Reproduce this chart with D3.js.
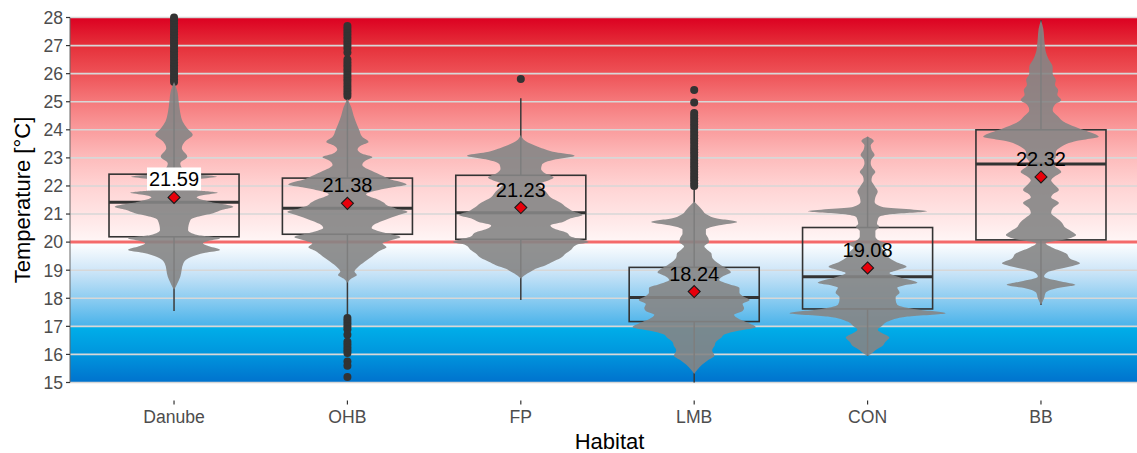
<!DOCTYPE html>
<html>
<head>
<meta charset="utf-8">
<script src="https://cdn.jsdelivr.net/npm/d3@7"></script>
<style>
  html, body { margin: 0; padding: 0; background: #ffffff; }
  svg { display: block; }
  text { font-family: "Liberation Sans", Arial, sans-serif; }
</style>
</head>
<body>
<svg id="chart" width="1137" height="453"></svg>
<script>
// ---- data -------------------------------------------------------------
const habitats = ["Danube", "OHB", "FP", "LMB", "CON", "BB"];
const yTicks = [15, 16, 17, 18, 19, 20, 21, 22, 23, 24, 25, 26, 27, 28];
const threshold = 20;

// box statistics: [lower whisker, Q1, median, Q3, upper whisker]
const boxStats = [
  [17.55, 20.19, 21.42, 22.42, 25.65],
  [17.40, 20.28, 21.21, 22.28, 25.10],
  [17.94, 20.10, 21.05, 22.38, 25.12],
  [15.00, 17.17, 18.03, 19.10, 21.90],
  [15.95, 17.62, 18.77, 20.52, 23.75],
  [17.76, 20.08, 22.78, 24.00, 27.90]
];

const means = [21.59, 21.38, 21.23, 18.24, 19.08, 22.32];

// outlying observations per habitat
const outliers = [
  [25.7, 25.8, 25.9, 26.0, 26.1, 26.2, 26.3, 26.4, 26.5, 26.6, 26.7, 26.8, 26.9, 27.0,
   27.1, 27.2, 27.3, 27.4, 27.5, 27.6, 27.7, 27.8, 27.9, 28.0],
  [25.2, 25.3, 25.4, 25.5, 25.6, 25.7, 25.8, 25.9, 26.0, 26.1, 26.2, 26.3, 26.4, 26.5,
   26.75, 26.9, 27.0, 27.1, 27.2, 27.3, 27.4, 27.5, 27.6, 27.7,
   17.3, 17.2, 17.1, 17.0, 16.9, 16.7, 16.45, 16.35, 16.25, 16.15, 16.05, 15.75, 15.6, 15.2],
  [25.81],
  [25.42, 24.97, 24.6, 24.5, 24.4, 24.3, 24.2, 24.1, 24.0, 23.9, 23.8, 23.7, 23.6, 23.5,
   23.4, 23.3, 23.2, 23.1, 23.0, 22.9, 22.8, 22.7, 22.6, 22.5, 22.4, 22.3, 22.2, 22.1, 22.0],
  [],
  []
];

// kernel density outlines: [temperature, relative density]
const densities = [
  [[25.7,0],[25.4,.04],[25.0,.06],[24.6,.08],[24.3,.11],[24.05,.17],[23.82,.24],[23.58,.14],
   [23.34,.10],[23.04,.17],[22.81,.08],[22.57,.12],[22.42,.3],[22.33,.55],[22.25,.32],[22.15,.21],
   [21.97,.17],[21.85,.3],[21.76,.56],[21.68,.38],[21.6,.29],[21.44,.46],[21.26,.76],[21.15,.62],
   [21.03,.5],[20.9,.3],[20.79,.21],[20.43,.18],[20.25,.3],[20.14,.59],[20.05,.45],[19.96,.37],
   [19.85,.45],[19.72,.59],[19.62,.4],[19.54,.29],[19.25,.12],[18.77,.08],[18.3,0]],
  [[25.1,0],[24.8,.05],[24.5,.08],[24.2,.12],[24.0,.15],[23.75,.19],[23.57,.27],[23.45,.18],
   [23.3,.13],[23.15,.19],[23.03,.32],[22.9,.23],[22.75,.19],[22.6,.26],[22.45,.38],[22.25,.54],
   [22.05,.76],[21.95,.58],[21.8,.32],[21.7,.24],[21.55,.36],[21.4,.47],[21.3,.51],[21.2,.62],
   [21.08,.77],[20.95,.64],[20.8,.49],[20.65,.36],[20.5,.31],[20.35,.45],[20.18,.68],[20.05,.54],
   [19.96,.45],[19.82,.50],[19.7,.42],[19.5,.32],[19.3,.22],[19.1,.13],[18.95,.09],[18.83,.12],
   [18.7,.05],[18.55,0]],
  [[23.82,0],[23.6,.06],[23.4,.22],[23.2,.45],[23.08,.69],[22.95,.45],[22.85,.32],[22.75,.27],
   [22.6,.26],[22.45,.31],[22.3,.42],[22.2,.36],[22.05,.23],[21.95,.26],[21.8,.32],[21.6,.38],
   [21.4,.51],[21.25,.58],[21.1,.67],[20.97,.79],[20.85,.64],[20.72,.54],[20.6,.38],[20.5,.41],
   [20.33,.59],[20.2,.64],[20.08,.79],[20.0,.87],[19.9,.71],[19.72,.64],[19.6,.58],[19.43,.51],
   [19.3,.41],[19.18,.32],[19.05,.19],[18.95,.13],[18.8,.04],[18.7,0]],
  [[21.45,0],[21.3,.05],[21.15,.10],[21.0,.15],[20.85,.28],[20.72,.55],[20.6,.32],[20.45,.15],
   [20.3,.15],[20.15,.18],[20.0,.19],[19.85,.13],[19.72,.17],[19.6,.22],[19.45,.23],[19.3,.28],
   [19.15,.36],[19.0,.45],[18.93,.47],[18.8,.38],[18.65,.32],[18.5,.45],[18.37,.58],[18.2,.58],
   [18.05,.64],[17.94,.71],[17.8,.62],[17.65,.64],[17.55,.62],[17.41,.51],[17.25,.58],[17.1,.71],
   [16.97,.79],[16.85,.58],[16.7,.38],[16.6,.35],[16.45,.28],[16.3,.26],[16.15,.23],[15.95,.26],
   [15.8,.18],[15.63,.10],[15.45,.04],[15.3,0]],
  [[23.75,0],[23.6,.08],[23.45,.04],[23.3,.05],[23.1,.09],[22.95,.05],[22.82,.04],[22.65,.06],
   [22.5,.10],[22.35,.06],[22.2,.05],[22.0,.09],[21.8,.13],[21.6,.10],[21.43,.09],[21.25,.19],
   [21.1,.76],[21.0,.32],[20.9,.15],[20.79,.13],[20.65,.12],[20.55,.15],[20.4,.10],[20.2,.10],
   [20.05,.15],[19.95,.26],[19.8,.18],[19.65,.23],[19.48,.26],[19.3,.36],[19.12,.50],[19.0,.38],
   [18.9,.28],[18.75,.41],[18.55,.64],[18.45,.45],[18.38,.38],[18.2,.41],[18.05,.36],[17.95,.36],
   [17.77,.38],[17.6,.64],[17.47,1.0],[17.35,.51],[17.17,.26],[17.0,.18],[16.88,.13],[16.75,.19],
   [16.6,.28],[16.45,.23],[16.3,.19],[16.15,.10],[16.05,.06],[15.95,0]],
  [[27.9,0],[27.6,.03],[27.3,.04],[27.0,.05],[26.8,.06],[26.5,.10],[26.24,.15],[26.0,.15],
   [25.78,.19],[25.6,.18],[25.42,.22],[25.25,.21],[25.06,.26],[24.9,.18],[24.7,.15],[24.5,.21],
   [24.24,.32],[24.05,.49],[23.9,.64],[23.75,.74],[23.6,.45],[23.4,.26],[23.2,.19],[23.03,.19],
   [22.85,.15],[22.7,.18],[22.5,.26],[22.35,.18],[22.2,.13],[22.05,.17],[21.86,.23],[21.7,.15],
   [21.6,.13],[21.4,.23],[21.2,.15],[21.04,.13],[20.9,.18],[20.72,.26],[20.5,.32],[20.35,.41],
   [20.25,.45],[20.1,.32],[19.96,.06],[19.8,.15],[19.6,.32],[19.4,.38],[19.25,.50],[19.1,.32],
   [18.95,.10],[18.77,.04],[18.6,.26],[18.48,.44],[18.35,.19],[18.2,.06],[18.0,.04],[17.76,0]]
];

// background colour ramp: [temperature, colour]
const bgStops = [
  [28.0, "#dc0021"], [27.0, "#e5303a"], [26.0, "#ee5257"], [25.0, "#f5797b"],
  [24.0, "#fa9c9d"], [23.0, "#fdbcbc"], [22.0, "#ffd3d3"], [21.0, "#ffe4e4"],
  [20.02, "#fff6f6"], [20.0, "#ffffff"], [19.0, "#cfe6f8"], [18.0, "#8ecdf1"],
  [17.02, "#4ab3ea"], [17.0, "#00afe9"], [16.0, "#0095dd"], [15.0, "#0072cd"]
];

// ---- layout -----------------------------------------------------------
const svg = d3.select("#chart");
const panel = { left: 70, right: 1145, top: 17.5, bottom: 382.5 };

const y = d3.scaleLinear().domain([15, 28]).range([panel.bottom, panel.top]);
const x = d3.scalePoint().domain(habitats).range([panel.left, panel.right]).padding(0.6);
const step = x.step();
const boxHalf = step * 0.75 / 2;
const w = d3.scaleLinear().domain([0, 1]).range([0, step * 0.45]);

// background gradient
const defs = svg.append("defs");
const grad = defs.append("linearGradient")
  .attr("id", "tempRamp")
  .attr("gradientUnits", "userSpaceOnUse")
  .attr("x1", 0).attr("x2", 0)
  .attr("y1", y(28)).attr("y2", y(15));
grad.selectAll("stop").data(bgStops).join("stop")
  .attr("offset", d => (y(d[0]) - y(28)) / (y(15) - y(28)))
  .attr("stop-color", d => d[1]);

svg.append("rect")
  .attr("x", panel.left).attr("y", y(28))
  .attr("width", panel.right - panel.left)
  .attr("height", y(15) - y(28))
  .attr("fill", "url(#tempRamp)");

// horizontal grid
svg.append("g").selectAll("line").data(yTicks).join("line")
  .attr("x1", panel.left).attr("x2", panel.right)
  .attr("y1", d => y(d)).attr("y2", d => y(d))
  .attr("stroke", "#d7d7d7").attr("stroke-width", 1.6);

// threshold line
svg.append("line")
  .attr("x1", panel.left).attr("x2", panel.right)
  .attr("y1", y(threshold)).attr("y2", y(threshold))
  .attr("stroke", "#f46a6a").attr("stroke-width", 3);

// ---- boxplots ---------------------------------------------------------
const boxes = svg.append("g").selectAll("g").data(habitats).join("g");
boxes.each(function(h, i) {
  const g = d3.select(this);
  const cx = x(h);
  const [lo, q1, med, q3, hi] = boxStats[i];
  g.append("line").attr("x1", cx).attr("x2", cx).attr("y1", y(q3)).attr("y2", y(hi))
    .attr("stroke", "#3a3a3a").attr("stroke-width", 1.5);
  g.append("line").attr("x1", cx).attr("x2", cx).attr("y1", y(q1)).attr("y2", y(lo))
    .attr("stroke", "#3a3a3a").attr("stroke-width", 1.5);
  g.append("rect")
    .attr("x", cx - boxHalf).attr("y", y(q3))
    .attr("width", boxHalf * 2).attr("height", y(q1) - y(q3))
    .attr("fill", "none").attr("stroke", "#333").attr("stroke-width", 1.6);
  g.append("line").attr("x1", cx - boxHalf).attr("x2", cx + boxHalf)
    .attr("y1", y(med)).attr("y2", y(med))
    .attr("stroke", "#333").attr("stroke-width", 3);
  g.selectAll("circle").data(outliers[i]).join("circle")
    .attr("cx", cx).attr("cy", d => y(d)).attr("r", 4)
    .attr("fill", "#333");
});

// ---- violins ----------------------------------------------------------
habitats.forEach((h, i) => {
  const cx = x(h);
  const area = d3.area()
    .y(d => y(d[0]))
    .x0(d => cx - w(d[1]))
    .x1(d => cx + w(d[1]))
    .curve(d3.curveMonotoneY);
  svg.append("path")
    .datum(densities[i])
    .attr("d", area)
    .attr("fill", "#858585")
    .attr("fill-opacity", 0.9);
});

// ---- means ------------------------------------------------------------
const meanG = svg.append("g");
habitats.forEach((h, i) => {
  const cx = x(h), cy = y(means[i]);
  const label = meanG.append("text")
    .attr("x", cx).attr("y", cy - 11)
    .attr("text-anchor", "middle")
    .attr("font-size", 20)
    .attr("fill", "#000")
    .text(means[i].toFixed(2));
  if (i === 0) {
    const bb = label.node().getBBox();
    meanG.insert("rect", "text")
      .attr("x", bb.x - 2).attr("y", bb.y - 1)
      .attr("width", bb.width + 4).attr("height", bb.height + 1)
      .attr("fill", "#ffffff");
  }
  meanG.append("path")
    .attr("d", `M${cx},${cy - 6}L${cx + 6},${cy}L${cx},${cy + 6}L${cx - 6},${cy}Z`)
    .attr("fill", "#e8000b").attr("stroke", "#1a1a1a").attr("stroke-width", 1.1);
});

// ---- axes -------------------------------------------------------------
const yAxis = svg.append("g");
yAxis.append("line")
  .attr("x1", panel.left).attr("x2", panel.left)
  .attr("y1", y(28)).attr("y2", y(15))
  .attr("stroke", "#666").attr("stroke-width", 1);
yAxis.selectAll("line.tick").data(yTicks).join("line").attr("class", "tick")
  .attr("x1", panel.left - 4).attr("x2", panel.left)
  .attr("y1", d => y(d)).attr("y2", d => y(d))
  .attr("stroke", "#333").attr("stroke-width", 1.2);
yAxis.selectAll("text").data(yTicks).join("text")
  .attr("x", panel.left - 7).attr("y", d => y(d))
  .attr("dy", "0.36em")
  .attr("text-anchor", "end")
  .attr("font-size", 17.6)
  .attr("fill", "#4d4d4d")
  .text(d => d);

const xAxis = svg.append("g");
xAxis.selectAll("line").data(habitats).join("line")
  .attr("x1", d => x(d)).attr("x2", d => x(d))
  .attr("y1", 400.5).attr("y2", 404.5)
  .attr("stroke", "#333").attr("stroke-width", 1.2);
xAxis.selectAll("text").data(habitats).join("text")
  .attr("x", d => x(d)).attr("y", 423)
  .attr("text-anchor", "middle")
  .attr("font-size", 17.6)
  .attr("fill", "#4d4d4d")
  .text(d => d);

svg.append("text")
  .attr("x", (panel.left + 1137) / 2 + 6).attr("y", 448.5)
  .attr("text-anchor", "middle")
  .attr("font-size", 22)
  .attr("fill", "#000")
  .text("Habitat");

svg.append("text")
  .attr("transform", `translate(30,${(y(28) + y(15)) / 2}) rotate(-90)`)
  .attr("text-anchor", "middle")
  .attr("font-size", 22)
  .attr("fill", "#000")
  .text("Temperature [°C]");
</script>
</body>
</html>
